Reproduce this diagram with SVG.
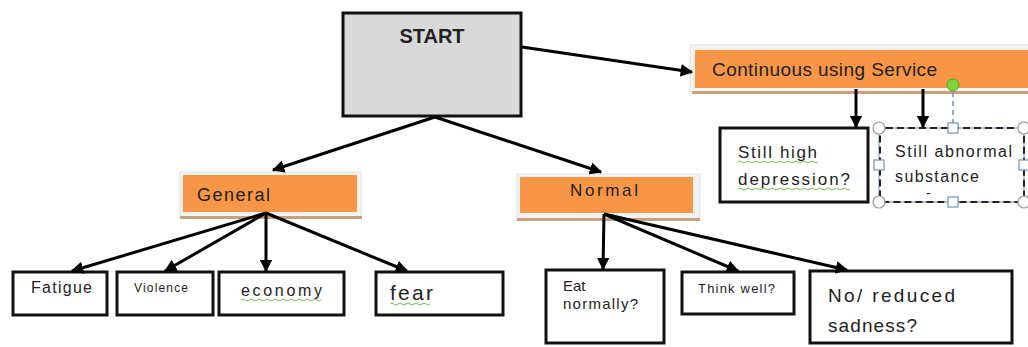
<svg xmlns="http://www.w3.org/2000/svg" width="1028" height="347" viewBox="0 0 1028 347">
<style>
.t{font-family:"Liberation Sans",Arial,sans-serif;fill:#222}
.box{fill:#fff;stroke:#111;stroke-width:3}
.or{fill:#F79646}
.fr{fill:#f3f3f3;stroke:#e2e2e2;stroke-width:1}
.sh{fill:#c9a07c}
.c{stroke:#000;stroke-width:3;fill:none;marker-end:url(#ah)}
.sq{fill:none;stroke:#6cc04a;stroke-width:1}
.hc{fill:#fff;stroke:#999;stroke-width:1.2}
.hs{fill:#fff;stroke:#6f93b8;stroke-width:1.2}
</style>
<defs>
<marker id="ah" viewBox="0 0 10 10" refX="9" refY="5" markerWidth="4.2" markerHeight="4.2" orient="auto" markerUnits="strokeWidth">
<path d="M0,0 L10,5 L0,10 z" fill="#000"/>
</marker>
</defs>
<rect width="1028" height="347" fill="#fff"/>

<g id="start">
<rect x="343" y="13" width="178" height="103" fill="#d9d9d9" stroke="#111" stroke-width="3"/>
<text class="t" x="432" y="43" font-size="20" font-weight="bold" text-anchor="middle">START</text>
</g>

<g id="continuous">
<rect class="fr" x="690" y="45" width="340" height="47"/>
<rect class="sh" x="692" y="91" width="336" height="3"/>
<rect class="or" x="695" y="50" width="333" height="38"/>
<text class="t" x="712" y="76" font-size="19" textLength="225">Continuous using Service</text>
</g>

<g id="general">
<rect class="fr" x="180" y="172" width="181" height="45"/>
<rect class="sh" x="180" y="216" width="182" height="3"/>
<rect class="or" x="183" y="175" width="174" height="37"/>
<text class="t" x="197" y="201" font-size="18" textLength="73">General</text>
</g>

<g id="normal">
<rect class="fr" x="517" y="174" width="183" height="45"/>
<rect class="sh" x="517" y="218" width="183" height="3"/>
<rect class="or" x="520" y="177" width="173" height="36"/>
<text class="t" x="570" y="196" font-size="17" textLength="68">Normal</text>
</g>

<g id="fatigue">
<rect class="box" x="13" y="272" width="94" height="43"/>
<text class="t" x="31" y="293" font-size="16" textLength="61">Fatigue</text>
</g>
<g id="violence">
<rect class="box" x="117" y="272" width="96" height="43"/>
<text class="t" x="134" y="292" font-size="12" textLength="54">Violence</text>
</g>
<g id="economy">
<rect class="box" x="219" y="272" width="125" height="43"/>
<text class="t" x="241" y="296" font-size="16" textLength="81">economy</text>
<path class="sq" d="M241,300 q2,-2 4,0 t4,0 t4,0 t4,0 t4,0 t4,0 t4,0 t4,0 t4,0 t4,0 t4,0 t4,0 t4,0 t4,0 t4,0 t4,0 t4,0 t4,0 t4,0 t4,0"/>
</g>
<g id="fear">
<rect class="box" x="376" y="272" width="127" height="43"/>
<text class="t" x="390" y="300" font-size="21" textLength="43">fear</text>
<path class="sq" d="M390,304 q2,-2 4,0 t4,0 t4,0 t4,0 t4,0 t4,0 t4,0 t4,0 t4,0 t4,0"/>
</g>

<g id="eat">
<rect class="box" x="546" y="270" width="118" height="73"/>
<text class="t" x="563" y="291" font-size="15">Eat</text>
<text class="t" x="563" y="309" font-size="15" textLength="75">normally?</text>
</g>
<g id="think">
<rect class="box" x="682" y="272" width="112" height="42"/>
<text class="t" x="698" y="293" font-size="13" textLength="77">Think well?</text>
</g>
<g id="noreduced">
<rect class="box" x="810" y="271" width="202" height="72"/>
<text class="t" x="828" y="302" font-size="19" textLength="127">No/ reduced</text>
<text class="t" x="828" y="332" font-size="19" textLength="89">sadness?</text>
</g>

<g id="stillhigh">
<rect class="box" x="720" y="128" width="148" height="74"/>
<text class="t" x="738" y="158" font-size="17" textLength="79">Still high</text>
<text class="t" x="738" y="185" font-size="17" textLength="112">depression?</text>
<path class="sq" d="M738,162 q2,-2 4,0 t4,0 t4,0 t4,0 t4,0 t4,0 t4,0 t4,0 t4,0 t4,0 t4,0 t4,0 t4,0 t4,0 t4,0 t4,0 t4,0 t4,0 t4,0 t4,0"/>
<path class="sq" d="M738,189 q2,-2 4,0 t4,0 t4,0 t4,0 t4,0 t4,0 t4,0 t4,0 t4,0 t4,0 t4,0 t4,0 t4,0 t4,0 t4,0 t4,0 t4,0 t4,0 t4,0 t4,0 t4,0 t4,0 t4,0 t4,0 t4,0 t4,0 t4,0 t4,0"/>
</g>

<g id="stillabnormal">
<rect x="879" y="128" width="145" height="74" rx="6" fill="#fff" stroke="#6f93b8" stroke-width="1"/>
<rect x="880" y="128" width="144" height="74" rx="6" fill="none" stroke="#222" stroke-width="2" stroke-dasharray="7,4"/>
<text class="t" x="895" y="157" font-size="16" textLength="117">Still abnormal</text>
<text class="t" x="895" y="182" font-size="16" textLength="84">substance</text>
<text class="t" x="926" y="198" font-size="14">-</text>
<line x1="953" y1="92" x2="953" y2="123" stroke="#6f93b8" stroke-width="1.5" stroke-dasharray="5,4"/>
<circle cx="953" cy="85" r="6" fill="#7ed43a" stroke="#5aa02a" stroke-width="1"/>
<circle class="hc" cx="879" cy="128" r="6"/>
<circle class="hc" cx="1024" cy="128" r="6"/>
<circle class="hc" cx="879" cy="202" r="6"/>
<circle class="hc" cx="1024" cy="202" r="6"/>
<rect class="hs" x="948" y="123" width="10" height="10"/>
<rect class="hs" x="948" y="197" width="10" height="10"/>
<rect class="hs" x="874" y="160" width="10" height="10"/>
<rect class="hs" x="1019" y="160" width="10" height="10"/>
</g>

<g id="connectors">
<line class="c" x1="522" y1="47" x2="692" y2="72"/>
<line class="c" x1="435" y1="117" x2="273" y2="170"/>
<line class="c" x1="435" y1="117" x2="601" y2="172"/>
<line class="c" x1="266" y1="213" x2="72" y2="271"/>
<line class="c" x1="266" y1="213" x2="165" y2="271"/>
<line class="c" x1="266" y1="213" x2="266" y2="271"/>
<line class="c" x1="266" y1="213" x2="407" y2="271"/>
<line class="c" x1="604" y1="214" x2="603" y2="269"/>
<line class="c" x1="604" y1="214" x2="738" y2="271"/>
<line class="c" x1="604" y1="214" x2="847" y2="270"/>
<line class="c" x1="856" y1="89" x2="856" y2="127"/>
<line class="c" x1="923" y1="89" x2="923" y2="127"/>
</g>
</svg>
